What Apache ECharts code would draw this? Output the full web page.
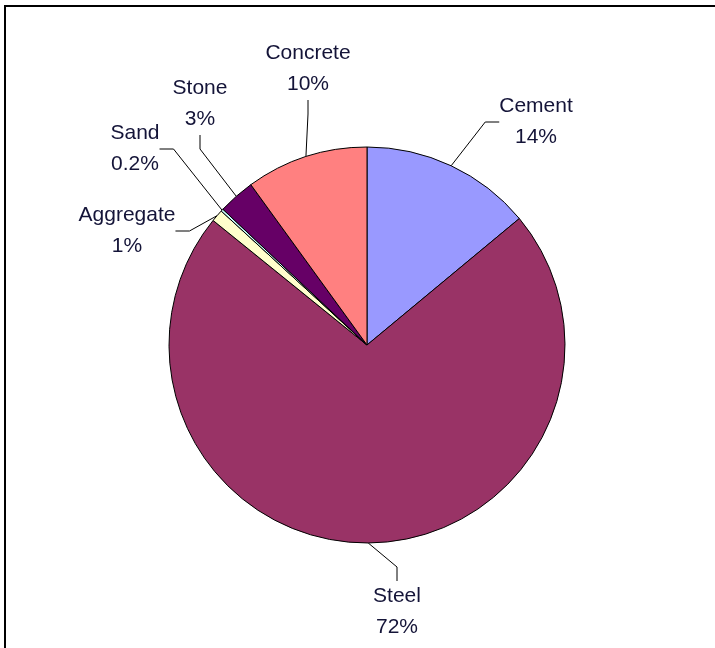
<!DOCTYPE html>
<html>
<head>
<meta charset="utf-8">
<script src="https://cdn.jsdelivr.net/npm/echarts@6/dist/echarts.min.js"></script>
<style>
  html, body { margin: 0; padding: 0; background: #fff; }
  #chart { width: 715px; height: 648px; }
</style>
</head>
<body>
<div id="chart"></div>
<script>
// Material shares, clockwise from 12 o'clock
const materials = ['Cement', 'Steel', 'Aggregate', 'Sand', 'Stone', 'Concrete'];
const shares = [14, 72, 1, 0.2, 3, 10];
const shareLabels = ['14%', '72%', '1%', '0.2%', '3%', '10%'];
const sliceColors = ['#9999FF', '#993366', '#FFFFCC', '#CCFFFF', '#660066', '#FF8080'];

// Where each two-line label block sits (centre of the block)
const labelSpots = {
  Cement:    [536, 122],
  Steel:     [397, 612],
  Aggregate: [127, 231],
  Sand:      [135, 149],
  Stone:     [200, 104],
  Concrete:  [308, 69]
};

const chart = echarts.init(document.getElementById('chart'), null, { renderer: 'canvas' });

chart.setOption({
  backgroundColor: '#ffffff',
  animation: false,
  graphic: [
    { type: 'line', shape: { x1: 4, y1: 6, x2: 715, y2: 6 }, style: { stroke: '#000', lineWidth: 2 } },
    { type: 'line', shape: { x1: 5, y1: 5, x2: 5, y2: 648 }, style: { stroke: '#000', lineWidth: 2 } }
  ],
  series: [{
    type: 'pie',
    center: [367, 345],
    radius: 198,
    startAngle: 90,
    clockwise: true,
    avoidLabelOverlap: false,
    minShowLabelAngle: 0,
    itemStyle: { borderColor: '#000', borderWidth: 1 },
    label: {
      show: true,
      position: 'outside',
      formatter: p => p.name + '\n' + shareLabels[p.dataIndex],
      fontFamily: 'Arial, "Liberation Sans", sans-serif',
      fontSize: 21,
      lineHeight: 31,
      color: '#141438',
      align: 'center'
    },
    labelLine: {
      show: true,
      length: 10,
      length2: 14,
      lineStyle: { color: '#000', width: 1 }
    },
    labelLayout: function (params) {
      const spot = labelSpots[materials[params.dataIndex]];
      return { x: spot[0], y: spot[1], align: 'center', verticalAlign: 'middle' };
    },
    emphasis: { disabled: true },
    data: materials.map((m, i) => ({
      name: m,
      value: shares[i],
      itemStyle: { color: sliceColors[i] }
    }))
  }]
});
</script>
</body>
</html>
